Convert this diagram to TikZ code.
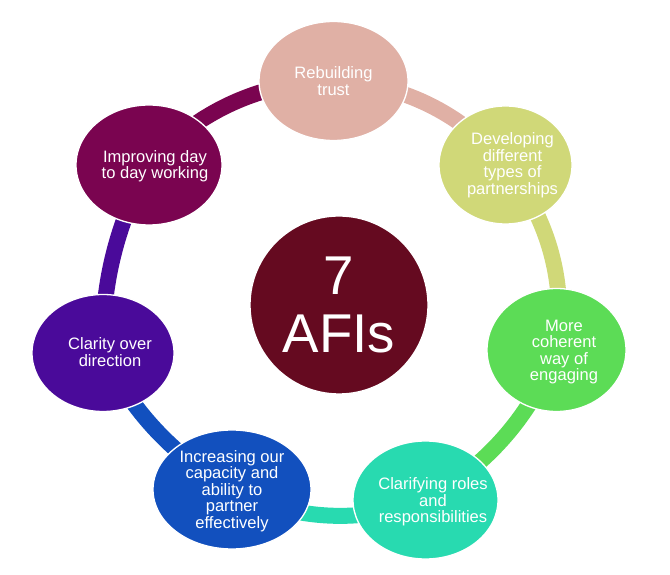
\documentclass[tikz,border=0pt]{standalone}
\usepackage{fontspec}
\setmainfont{Liberation Sans}
\usetikzlibrary{shapes.geometric,backgrounds}
\definecolor{pinkA}{HTML}{E0B0A5}
\definecolor{oliveA}{HTML}{D0D878}
\definecolor{greenA}{HTML}{5CDC56}
\definecolor{tealA}{HTML}{28DAB0}
\definecolor{blueA}{HTML}{1250BE}
\definecolor{violetA}{HTML}{4A0A9A}
\definecolor{plumA}{HTML}{7A0450}
\definecolor{wineA}{HTML}{650A20}
\tikzset{
	bubble/.style n args={3}{ellipse,fill=#1,draw=white,line width=1pt,inner sep=0pt,
		minimum width=#2*.75pt,minimum height=#3*.75pt},
	caption/.style={text=white,align=center,inner sep=0pt,
		font=\fontsize{12.4}{12.4}\selectfont},
	hub/.style={circle,fill=wineA,draw=white,line width=1pt,inner sep=0pt,
		minimum size=133.5pt,text=white,align=center,
		font=\fontsize{41}{43.5}\selectfont},
	ring/.style={line width=12pt,color=#1,bend left=24,looseness=.9},
}
\begin{document}
\begin{tikzpicture}[x=.75pt,y=.75pt]
	\useasboundingbox (0,0) rectangle (670,574);
	\node[hub] (afis) at (339,269) {7\\AFIs};
	\node[bubble={pinkA}{149}{119}] (trust) at (333.5,493) {};
	\node[bubble={oliveA}{133}{118}] (types) at (505.5,409) {};
	\node[bubble={greenA}{139}{123}] (coherent) at (556.5,224) {};
	\node[bubble={tealA}{145}{118}] (roles) at (425.5,74) {};
	\node[bubble={blueA}{158}{119}] (capacity) at (232,84.5) {};
	\node[bubble={violetA}{142}{117}] (direction) at (103,221) {};
	\node[bubble={plumA}{146}{120}] (working) at (149,409) {};
	\node[caption] (trustText) at (333.5,493) {Rebuilding\\trust};
	\node[caption] (typesText) at (512.5,409) {Developing\\different\\types of\\partnerships};
	\node[caption] (coherentText) at (564,222) {More\\coherent\\way of\\engaging};
	\node[caption] (rolesText) at (433,72) {Clarifying roles\\and\\responsibilities};
	\node[caption] (capacityText) at (232,83) {Increasing our\\capacity and\\ability to\\partner\\effectively};
	\node[caption] (directionText) at (110,222) {Clarity over\\direction};
	\node[caption] (workingText) at (155,408) {Improving day\\to day working};
	\begin{scope}[on background layer]
		\draw[ring=pinkA] (trust.center) to (types.center);
		\draw[ring=oliveA] (types.center) to (coherent.center);
		\draw[ring=greenA,bend left=20] (coherent.center) to (roles.center);
		\draw[ring=tealA] (roles.center) to (capacity.center);
		\draw[ring=blueA,bend left=17] (capacity.center) to (direction.center);
		\draw[ring=violetA,bend left=15] (direction.center) to (working.center);
		\draw[ring=plumA] (working.center) to (trust.center);
	\end{scope}
\end{tikzpicture}
\end{document}
